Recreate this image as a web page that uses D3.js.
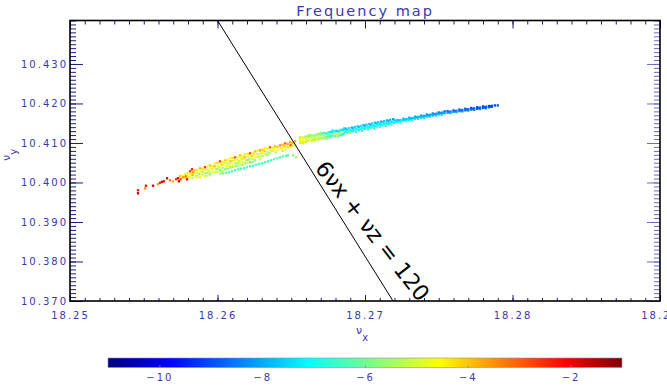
<!DOCTYPE html>
<html>
<head>
<meta charset="utf-8">
<script src="https://cdn.jsdelivr.net/npm/d3@7"></script>
<style>
  body { margin: 0; background: #fff; }
  text { font-family: "DejaVu Sans", sans-serif; }
</style>
</head>
<body>
<svg id="chart" width="667" height="390"></svg>
<script>
// Axis ranges and tick labels
const xDomain = [18.25, 18.29];
const yDomain = [10.37, 10.441];
const xTickValues = [18.25, 18.26, 18.27, 18.28, 18.29];
const yTickValues = [10.37, 10.38, 10.39, 10.40, 10.41, 10.42, 10.43];
const colorDomain = [-11, -1];
const colorTickValues = [-10, -8, -6, -4, -2];

// Resonance line 6νx + νz = 120 across the tune window
const resonanceLine = [[18.2600, 10.4410], [18.2719, 10.3700]];

// Tune points [νx, νy, diffusion index]
const tailPoints = [
  [18.25461,10.39727,-1.5],[18.25461,10.39803,-2.3],[18.25509,10.39853,-3.5],[18.25515,10.39917,-2.2],
  [18.25563,10.39917,-1.6],[18.25597,10.39954,-3.6],[18.25610,10.39992,-2.5],[18.25624,10.40017,-1.6],
  [18.25637,10.40030,-2.2],[18.25658,10.40106,-1.6],[18.25678,10.40055,-3.2],[18.25698,10.40030,-3.8],
  [18.25719,10.40081,-2.6],[18.25732,10.40106,-1.7],[18.25739,10.40030,-1.5],[18.25766,10.40131,-3.6],
  [18.25786,10.40156,-3.2],[18.25793,10.40081,-2.0],[18.25827,10.40333,-2.3],[18.25834,10.40257,-3.6],
  [18.25861,10.40131,-4.6]
];

const corePoints = [
  [18.25746,10.40156,-3.9],[18.25750,10.40081,-2.8],
  [18.25780,10.40207,-4.6],[18.25776,10.40131,-4.0],
  [18.25814,10.40283,-2.6],[18.25818,10.40207,-4.8],[18.25810,10.40131,-4.5],
  [18.25848,10.40308,-4.0],[18.25844,10.40232,-5.0],[18.25852,10.40156,-5.3],
  [18.25881,10.40358,-3.8],[18.25885,10.40283,-4.7],[18.25877,10.40207,-5.4],[18.25881,10.40131,-4.8],
  [18.25915,10.40384,-2.5],[18.25911,10.40308,-4.5],[18.25919,10.40232,-5.8],[18.25915,10.40156,-5.0],
  [18.25949,10.40434,-4.0],[18.25953,10.40358,-4.7],[18.25945,10.40283,-5.1],[18.25949,10.40207,-5.9],
  [18.25983,10.40485,-4.6],[18.25979,10.40409,-3.7],[18.25987,10.40333,-5.3],[18.25983,10.40257,-4.8],
  [18.26017,10.40535,-2.7],[18.26021,10.40459,-4.8],[18.26013,10.40384,-5.0],[18.26017,10.40308,-6.0],[18.26021,10.40232,-5.5],
  [18.26051,10.40560,-4.1],[18.26047,10.40485,-5.2],[18.26055,10.40409,-4.6],[18.26051,10.40333,-5.9],
  [18.26085,10.40611,-4.7],[18.26089,10.40535,-3.8],[18.26081,10.40459,-4.9],[18.26085,10.40384,-5.4],
  [18.26119,10.40636,-2.9],[18.26115,10.40560,-4.6],[18.26123,10.40485,-5.8],[18.26119,10.40409,-5.0],
  [18.26153,10.40687,-4.0],[18.26157,10.40611,-4.8],[18.26149,10.40535,-5.3],[18.26153,10.40459,-4.6],
  [18.26187,10.40712,-4.7],[18.26183,10.40636,-3.7],[18.26191,10.40560,-5.0],[18.26187,10.40485,-5.7],
  [18.26220,10.40737,-2.8],[18.26224,10.40661,-4.6],[18.26216,10.40586,-5.4],[18.26220,10.40510,-6.0],
  [18.26254,10.40788,-4.0],[18.26250,10.40712,-4.9],[18.26258,10.40636,-4.6],[18.26254,10.40560,-5.8],
  [18.26288,10.40813,-3.7],[18.26292,10.40737,-4.7],[18.26284,10.40661,-5.6],[18.26288,10.40586,-5.0],
  [18.26322,10.40863,-4.5],[18.26318,10.40788,-4.0],[18.26326,10.40712,-5.3],
  [18.26356,10.40889,-2.9],[18.26360,10.40813,-4.8],[18.26352,10.40737,-5.8],
  [18.26390,10.40914,-3.9],[18.26386,10.40838,-4.6],[18.26394,10.40762,-5.2],
  [18.26424,10.40939,-3.5],[18.26428,10.40863,-4.4],
  [18.26458,10.40990,-3.0],[18.26454,10.40914,-3.9],[18.26462,10.40838,-4.7],
  [18.26492,10.41015,-3.6],[18.26496,10.40939,-2.6],[18.26488,10.40889,-4.5],
  [18.26526,10.41040,-3.7],[18.26522,10.40964,-4.8]
];

const coreScatter = [
  [18.25763,10.40169,-4.5],
  [18.25797,10.40232,-4.3],[18.25797,10.40156,-5.0],
  [18.25831,10.40270,-4.6],[18.25831,10.40194,-3.9],[18.25831,10.40119,-5.2],
  [18.25864,10.40321,-4.8],[18.25864,10.40245,-4.4],[18.25864,10.40169,-5.1],
  [18.25898,10.40346,-4.2],[18.25898,10.40270,-5.3],[18.25898,10.40194,-4.7],
  [18.25932,10.40396,-4.9],[18.25932,10.40321,-4.3],[18.25932,10.40245,-5.5],[18.25932,10.40169,-4.6],
  [18.25966,10.40422,-4.4],[18.25966,10.40346,-5.0],[18.25966,10.40270,-4.6],
  [18.26000,10.40497,-4.1],[18.26000,10.40422,-4.7],[18.26000,10.40346,-5.5],[18.26000,10.40270,-5.1],
  [18.26034,10.40522,-4.8],[18.26034,10.40447,-4.3],[18.26034,10.40371,-5.6],[18.26034,10.40295,-4.9],
  [18.26068,10.40573,-4.5],[18.26068,10.40497,-5.0],[18.26068,10.40422,-4.4],[18.26068,10.40346,-5.7],
  [18.26102,10.40623,-4.2],[18.26102,10.40548,-5.1],[18.26102,10.40472,-4.6],[18.26102,10.40396,-5.3],
  [18.26136,10.40649,-4.7],[18.26136,10.40573,-4.4],[18.26136,10.40497,-5.2],[18.26136,10.40422,-5.8],
  [18.26170,10.40674,-4.5],[18.26170,10.40598,-5.0],[18.26170,10.40522,-4.8],[18.26170,10.40447,-5.5],
  [18.26204,10.40724,-4.3],[18.26204,10.40649,-4.9],[18.26204,10.40573,-5.6],[18.26204,10.40497,-4.7],
  [18.26237,10.40750,-4.6],[18.26237,10.40674,-4.2],[18.26237,10.40598,-5.1],[18.26237,10.40522,-5.7],
  [18.26271,10.40800,-4.4],[18.26271,10.40724,-5.2],[18.26271,10.40649,-4.8],
  [18.26305,10.40825,-4.1],[18.26305,10.40750,-4.7],[18.26305,10.40674,-5.4],
  [18.26339,10.40851,-4.6],[18.26339,10.40775,-5.0],[18.26339,10.40699,-5.7],
  [18.26373,10.40876,-4.3],[18.26373,10.40800,-4.9],
  [18.26407,10.40901,-4.0],[18.26407,10.40825,-4.7],
  [18.26441,10.40952,-3.9],[18.26441,10.40876,-4.5],[18.26441,10.40800,-5.1],
  [18.26475,10.40977,-3.6],[18.26475,10.40901,-4.3],
  [18.26509,10.41002,-3.8],[18.26509,10.40926,-4.4]
];

const branchPoints = [
  [18.26037,10.40232,-6.0],[18.26058,10.40245,-6.1],[18.26078,10.40257,-6.2],[18.26098,10.40283,-6.3],
  [18.26119,10.40308,-6.3],[18.26139,10.40333,-6.2],[18.26159,10.40346,-6.4],[18.26180,10.40358,-6.5],
  [18.26200,10.40384,-6.3],[18.26220,10.40409,-6.4],[18.26241,10.40422,-6.5],[18.26261,10.40447,-6.3],
  [18.26281,10.40472,-6.4],[18.26302,10.40485,-6.5],[18.26322,10.40510,-6.3],[18.26342,10.40535,-6.4],
  [18.26363,10.40560,-6.5],[18.26383,10.40586,-6.2],[18.26403,10.40611,-6.3],[18.26424,10.40636,-6.4],
  [18.26444,10.40661,-6.2],[18.26464,10.40674,-6.2],[18.26478,10.40687,-6.1],[18.26512,10.40687,-5.8],
  [18.26532,10.40636,-5.5]
];

const armPoints = [
  [18.2656,10.41140,-4.2],[18.2656,10.41070,-4.8],[18.2656,10.41000,-5.2],
  [18.2658,10.41119,-4.6],[18.2658,10.41049,-5.0],[18.2658,10.40994,-4.3],
  [18.2660,10.41168,-5.0],[18.2660,10.41098,-4.7],[18.2660,10.41028,-5.4],
  [18.2662,10.41202,-5.6],[18.2662,10.41147,-5.3],[18.2662,10.41077,-4.5],
  [18.2664,10.41196,-5.6],[18.2664,10.41126,-5.0],[18.2664,10.41056,-4.8],
  [18.2666,10.41175,-5.8],[18.2666,10.41105,-5.4],[18.2666,10.41050,-5.0],
  [18.2668,10.41224,-5.5],[18.2668,10.41154,-5.0],[18.2668,10.41084,-5.2],
  [18.2670,10.41258,-5.9],[18.2670,10.41203,-5.3],[18.2670,10.41133,-4.9],
  [18.2672,10.41252,-6.2],[18.2672,10.41182,-5.6],[18.2672,10.41112,-5.2],
  [18.2674,10.41231,-6.6],[18.2674,10.41161,-5.9],[18.2674,10.41106,-5.6],
  [18.2676,10.41280,-6.9],[18.2676,10.41210,-6.3],[18.2676,10.41140,-6.0],
  [18.2678,10.41314,-7.2],[18.2678,10.41259,-6.6],[18.2678,10.41189,-6.3],
  [18.2680,10.41308,-7.0],[18.2680,10.41238,-5.2],[18.2680,10.41168,-6.6],
  [18.2682,10.41287,-7.4],[18.2682,10.41217,-4.8],[18.2682,10.41162,-6.2],
  [18.2684,10.41336,-7.1],[18.2684,10.41266,-5.0],[18.2684,10.41196,-6.8],
  [18.2686,10.41370,-7.6],[18.2686,10.41315,-6.9],[18.2686,10.41245,-6.5],
  [18.2688,10.41335,-7.5],[18.2688,10.41265,-6.6],
  [18.2690,10.41321,-7.2],[18.2690,10.41251,-5.4],
  [18.2692,10.41366,-7.8],[18.2692,10.41296,-6.9],
  [18.2694,10.41351,-7.0],[18.2694,10.41281,-6.4],
  [18.2696,10.41396,-7.6],[18.2696,10.41326,-7.1],
  [18.2698,10.41382,-7.3],[18.2698,10.41312,-6.7],
  [18.2700,10.41427,-7.9],[18.2700,10.41357,-7.0],
  [18.2702,10.41412,-7.1],[18.2702,10.41342,-6.5],
  [18.2704,10.41458,-7.7],[18.2704,10.41388,-6.9],
  [18.2706,10.41443,-7.2],[18.2706,10.41373,-6.6],
  [18.2708,10.41488,-7.5],[18.2708,10.41418,-7.0],
  [18.2710,10.41474,-7.8],[18.2710,10.41404,-6.8],
  [18.2712,10.41519,-7.3],[18.2712,10.41449,-7.1],
  [18.2714,10.41504,-7.0],[18.2714,10.41434,-6.4],
  [18.2716,10.41549,-7.9],[18.2716,10.41479,-7.2],
  [18.2718,10.41535,-7.4],[18.2718,10.41465,-6.7],
  [18.2720,10.41580,-7.6],[18.2720,10.41510,-7.0],
  [18.2722,10.41584,-7.8],[18.2722,10.41534,-7.1],
  [18.2724,10.41577,-7.5],[18.2724,10.41527,-6.9],
  [18.2726,10.41611,-8.0],[18.2726,10.41561,-7.3],
  [18.2728,10.41604,-7.6],[18.2728,10.41554,-7.0],
  [18.2730,10.41638,-8.1],[18.2730,10.41588,-7.4],
  [18.2732,10.41631,-7.7],[18.2732,10.41581,-7.1],
  [18.2734,10.41665,-8.2],[18.2734,10.41615,-7.5],
  [18.2736,10.41658,-7.9],[18.2736,10.41608,-7.2],
  [18.2738,10.41692,-8.3],[18.2738,10.41642,-7.6],
  [18.2740,10.41685,-7.8],[18.2740,10.41635,-7.3],
  [18.2742,10.41719,-8.4],[18.2742,10.41669,-7.7],
  [18.2744,10.41712,-8.0],[18.2744,10.41662,-7.4],
  [18.2746,10.41746,-8.5],[18.2746,10.41696,-7.8],
  [18.2748,10.41739,-8.1],[18.2748,10.41689,-7.5],
  [18.2750,10.41773,-8.6],[18.2750,10.41723,-7.9],
  [18.2752,10.41766,-8.3],[18.2752,10.41716,-7.6],
  [18.2754,10.41800,-8.7],[18.2754,10.41750,-8.0],
  [18.2756,10.41805,-8.8],[18.2756,10.41765,-8.1],
  [18.2758,10.41795,-8.5],[18.2758,10.41760,-7.9],
  [18.2760,10.41825,-8.9],[18.2760,10.41785,-8.2],
  [18.2762,10.41815,-8.6],[18.2762,10.41780,-8.0],
  [18.2764,10.41845,-9.0],[18.2764,10.41805,-8.4],
  [18.2766,10.41835,-8.7],[18.2766,10.41800,-8.2],
  [18.2768,10.41865,-9.1],[18.2768,10.41825,-8.5],
  [18.2770,10.41855,-8.8],[18.2770,10.41820,-8.3],
  [18.2772,10.41885,-9.2],[18.2772,10.41845,-8.6],
  [18.2774,10.41875,-8.9],[18.2774,10.41840,-8.4],
  [18.2776,10.41905,-9.1],[18.2776,10.41865,-8.7],
  [18.2778,10.41895,-8.8],[18.2778,10.41860,-8.5],
  [18.2780,10.41925,-9.2],[18.2780,10.41885,-8.8],
  [18.2782,10.41915,-9.0],[18.2782,10.41880,-8.6],
  [18.2784,10.41935,-9.3],[18.2784,10.41905,-8.9],
  [18.2786,10.41940,-9.1],[18.2786,10.41915,-8.8],
  [18.2788,10.41950,-9.2],
  [18.2790,10.41950,-9.0]
];

const armFill = [
  [18.2657,10.41137,-4.9],[18.2657,10.41027,-4.4],
  [18.2659,10.41151,-5.3],[18.2659,10.41041,-4.6],
  [18.2661,10.41165,-5.5],[18.2661,10.41055,-5.1],
  [18.2663,10.41179,-5.7],[18.2663,10.41069,-4.7],
  [18.2665,10.41193,-5.5],[18.2665,10.41083,-5.3],
  [18.2667,10.41207,-5.7],[18.2667,10.41097,-5.1],
  [18.2669,10.41221,-5.9],[18.2669,10.41111,-5.4],
  [18.2671,10.41235,-6.2],[18.2671,10.41125,-5.5],
  [18.2673,10.41249,-6.5],[18.2673,10.41139,-5.8],
  [18.2675,10.41263,-6.7],[18.2675,10.41153,-6.1],
  [18.2677,10.41277,-7.3],[18.2677,10.41167,-6.5],
  [18.2679,10.41291,-7.1],[18.2679,10.41181,-5.8],
  [18.2681,10.41305,-7.5],[18.2681,10.41195,-5.1],
  [18.2683,10.41319,-7.2],[18.2683,10.41209,-6.4],
  [18.2685,10.41333,-7.4],[18.2685,10.41223,-6.7],
  [18.2687,10.41358,-7.7],[18.2687,10.41278,-6.8],
  [18.2689,10.41373,-7.3],[18.2689,10.41293,-6.5],
  [18.2691,10.41388,-7.9],[18.2691,10.41308,-7.0],
  [18.2693,10.41404,-7.5],[18.2693,10.41324,-6.7],
  [18.2695,10.41419,-7.8],[18.2695,10.41339,-6.9],
  [18.2697,10.41434,-7.4],[18.2697,10.41354,-6.6],
  [18.2699,10.41450,-8.0],[18.2699,10.41370,-7.1],
  [18.2701,10.41465,-7.6],[18.2701,10.41385,-6.8],
  [18.2703,10.41480,-7.9],[18.2703,10.41400,-7.0],
  [18.2705,10.41495,-7.5],[18.2705,10.41415,-6.7],
  [18.2707,10.41511,-8.0],[18.2707,10.41431,-7.2],
  [18.2709,10.41526,-7.6],[18.2709,10.41446,-6.9],
  [18.2711,10.41541,-8.1],[18.2711,10.41461,-7.1],
  [18.2713,10.41557,-7.7],[18.2713,10.41477,-6.8],
  [18.2715,10.41572,-8.0],[18.2715,10.41492,-7.3],
  [18.2717,10.41587,-7.8],[18.2717,10.41507,-7.0],
  [18.2719,10.41602,-8.1],[18.2719,10.41522,-7.2],
  [18.2721,10.41552,-7.4],[18.2723,10.41566,-7.6],[18.2725,10.41579,-7.3],[18.2727,10.41593,-7.7],
  [18.2729,10.41606,-7.5],[18.2731,10.41620,-7.8],[18.2733,10.41633,-7.6],[18.2735,10.41647,-7.9],
  [18.2737,10.41660,-7.7],[18.2739,10.41674,-8.0],[18.2741,10.41687,-7.8],[18.2743,10.41701,-8.1],
  [18.2745,10.41714,-7.9],[18.2747,10.41728,-8.2],[18.2749,10.41741,-8.0],[18.2751,10.41755,-8.3],
  [18.2753,10.41768,-8.1],
  [18.2757,10.41785,-8.4],[18.2761,10.41805,-8.5],[18.2765,10.41825,-8.6],[18.2769,10.41845,-8.7],
  [18.2773,10.41865,-8.8],[18.2777,10.41885,-8.9],[18.2781,10.41905,-9.0],[18.2785,10.41925,-9.1]
];

// Rainbow colour table used for the diffusion index
const colorStops = [
  [-11, "#000080"], [-9.8, "#0000ff"], [-7.1, "#00ffff"],
  [-4.55, "#ffff00"], [-2.1, "#ff0000"], [-1, "#800000"]
];

const labelColor = "#3a3aa6";
const svg = d3.select("#chart");

const x = d3.scaleLinear().domain(xDomain).range([70, 660]);
const y = d3.scaleLinear().domain(yDomain).range([301, 20.5]);
const color = d3.scaleLinear()
  .domain(colorStops.map(d => d[0]))
  .range(colorStops.map(d => d[1]))
  .interpolate(d3.interpolateRgb)
  .clamp(true);

const xMinor = d3.range(0, 41).map(i => +(xDomain[0] + i * 0.001).toFixed(3));
const yMinor = d3.range(0, 72).map(i => +(yDomain[0] + i * 0.001).toFixed(3));

// Title
svg.append("text")
  .attr("x", 365).attr("y", 16)
  .attr("text-anchor", "middle")
  .attr("font-size", 14.5)
  .attr("letter-spacing", 2)
  .attr("fill", labelColor)
  .text("Frequency map");

// Points
const allPoints = [].concat(branchPoints, corePoints, coreScatter, tailPoints, armPoints, armFill);
const size = 2.3;
svg.append("g")
  .selectAll("rect")
  .data(allPoints)
  .join("rect")
  .attr("x", d => x(d[0]) - size / 2)
  .attr("y", d => y(d[1]) - size / 2)
  .attr("width", size)
  .attr("height", size)
  .attr("fill", d => color(d[2]));

// Axes with inward ticks
function styleAxis(g, tickColor) {
  g.select(".domain").remove();
  g.selectAll(".tick line").attr("stroke", tickColor).attr("stroke-width", 1);
  g.selectAll(".tick text")
    .attr("fill", labelColor)
    .attr("font-size", 10)
    .attr("letter-spacing", 2)
    .attr("font-family", "DejaVu Sans, sans-serif");
}

svg.append("g").attr("transform", "translate(0,301)")
  .call(d3.axisBottom(x).tickValues(xMinor).tickSize(-3).tickFormat(""))
  .call(g => styleAxis(g, "#1a1a80"));
svg.append("g").attr("transform", "translate(0,301)")
  .call(d3.axisBottom(x).tickValues(xTickValues).tickSize(-6).tickPadding(11).tickFormat(d3.format(".2f")))
  .call(g => styleAxis(g, "#1a1a80"));

svg.append("g").attr("transform", "translate(0,20.5)")
  .call(d3.axisTop(x).tickValues(xMinor).tickSize(-4).tickFormat(""))
  .call(g => styleAxis(g, "#1a1a80"));
svg.append("g").attr("transform", "translate(0,20.5)")
  .call(d3.axisTop(x).tickValues(xTickValues).tickSize(-8).tickFormat(""))
  .call(g => styleAxis(g, "#1a1a80"));

svg.append("g").attr("transform", "translate(70,0)")
  .call(d3.axisLeft(y).tickValues(yMinor).tickSize(-6).tickFormat(""))
  .call(g => styleAxis(g, "#1a1a80"));
svg.append("g").attr("transform", "translate(70,0)")
  .call(d3.axisLeft(y).tickValues(yTickValues).tickSize(-13).tickPadding(2).tickFormat(d3.format(".3f")))
  .call(g => styleAxis(g, "#1a1a80"));

svg.append("g").attr("transform", "translate(660,0)")
  .call(d3.axisRight(y).tickValues(yMinor).tickSize(-6).tickFormat(""))
  .call(g => styleAxis(g, "#6a6ab8"));
svg.append("g").attr("transform", "translate(660,0)")
  .call(d3.axisRight(y).tickValues(yTickValues).tickSize(-13).tickFormat(""))
  .call(g => styleAxis(g, "#6a6ab8"));

// Plot frame
svg.append("rect")
  .attr("x", x(xDomain[0])).attr("y", y(yDomain[1]))
  .attr("width", x(xDomain[1]) - x(xDomain[0]))
  .attr("height", y(yDomain[0]) - y(yDomain[1]))
  .attr("fill", "none").attr("stroke", "#000").attr("stroke-width", 1.6);

// Resonance line and its label
svg.append("path")
  .attr("d", d3.line().x(d => x(d[0])).y(d => y(d[1]))(resonanceLine))
  .attr("fill", "none").attr("stroke", "#000").attr("stroke-width", 1);

const lx = x(18.2705), ly = y(10.3877);
svg.append("text")
  .attr("transform", `translate(${lx},${ly}) rotate(52.2)`)
  .attr("text-anchor", "middle")
  .attr("dominant-baseline", "central")
  .attr("font-family", "Liberation Sans, Arial, sans-serif")
  .attr("font-size", 22)
  .attr("fill", "#000")
  .text("6νx + νz = 120");

// Axis titles
const xt = svg.append("text").attr("x", 356).attr("y", 333.5)
  .attr("font-size", 11).attr("fill", labelColor);
xt.append("tspan").text("ν");
xt.append("tspan").attr("dy", 7).attr("font-size", 10).text("x");

const yt = svg.append("text").attr("transform", "translate(10,161) rotate(-90)")
  .attr("font-size", 11).attr("fill", labelColor);
yt.append("tspan").text("ν");
yt.append("tspan").attr("dy", 7).attr("font-size", 10).text("y");

// Colour bar
const cbX = d3.scaleLinear().domain(colorDomain).range([108, 622]);
const grad = svg.append("defs").append("linearGradient")
  .attr("id", "cbar").attr("x1", "0%").attr("x2", "100%");
colorStops.forEach(d => {
  grad.append("stop")
    .attr("offset", ((d[0] - colorDomain[0]) / (colorDomain[1] - colorDomain[0]) * 100) + "%")
    .attr("stop-color", d[1]);
});
svg.append("rect")
  .attr("x", cbX(colorDomain[0])).attr("y", 358)
  .attr("width", cbX(colorDomain[1]) - cbX(colorDomain[0])).attr("height", 9.5)
  .attr("fill", "url(#cbar)")
  .attr("stroke", "#8a8ac0").attr("stroke-width", 0.6);

svg.append("g").attr("transform", "translate(0,367.5)")
  .call(d3.axisBottom(cbX).tickValues(colorTickValues).tickSize(-2).tickPadding(6).tickFormat(d3.format("d")))
  .call(g => styleAxis(g, "#8a8ac0"));
</script>
</body>
</html>
